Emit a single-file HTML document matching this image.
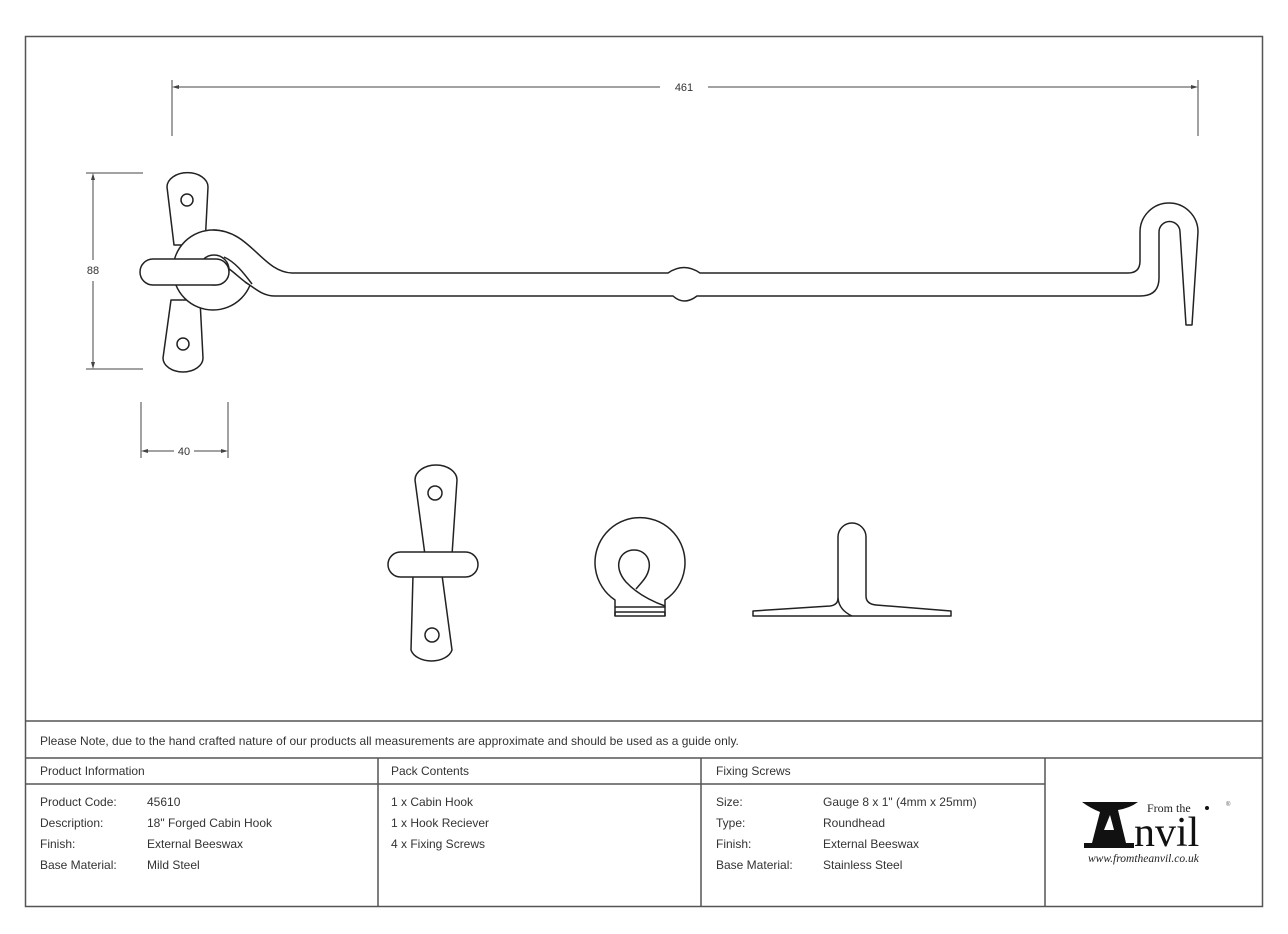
<!DOCTYPE html>
<html><head><meta charset="utf-8"><style>
html,body{margin:0;padding:0;background:#fff}
svg{display:block}
.t{font-family:"Liberation Sans",sans-serif;fill:#333}
</style></head><body>
<svg width="1288" height="934" viewBox="0 0 1288 934" xmlns="http://www.w3.org/2000/svg">
<rect x="0" y="0" width="1288" height="934" fill="#fff"/>
<rect x="25.5" y="36.5" width="1237" height="870" fill="none" stroke="#555" stroke-width="1.5"/>
<g stroke="#555" stroke-width="1.5">
<line x1="25" y1="721" x2="1263" y2="721"/>
<line x1="25" y1="758" x2="1263" y2="758"/>
<line x1="25" y1="784" x2="1045" y2="784"/>
<line x1="378" y1="758" x2="378" y2="907"/>
<line x1="701" y1="758" x2="701" y2="907"/>
<line x1="1045" y1="758" x2="1045" y2="907"/>
</g>
<g class="t" font-size="12">
<text x="40" y="745">Please Note, due to the hand crafted nature of our products all measurements are approximate and should be used as a guide only.</text>
<text x="40" y="775">Product Information</text>
<text x="391" y="775">Pack Contents</text>
<text x="716" y="775">Fixing Screws</text>
<text x="40" y="806">Product Code:</text><text x="147" y="806">45610</text>
<text x="40" y="827">Description:</text><text x="147" y="827">18" Forged Cabin Hook</text>
<text x="40" y="848">Finish:</text><text x="147" y="848">External Beeswax</text>
<text x="40" y="869">Base Material:</text><text x="147" y="869">Mild Steel</text>
<text x="391" y="806">1 x Cabin Hook</text>
<text x="391" y="827">1 x Hook Reciever</text>
<text x="391" y="848">4 x Fixing Screws</text>
<text x="716" y="806">Size:</text><text x="823" y="806">Gauge 8 x 1" (4mm x 25mm)</text>
<text x="716" y="827">Type:</text><text x="823" y="827">Roundhead</text>
<text x="716" y="848">Finish:</text><text x="823" y="848">External Beeswax</text>
<text x="716" y="869">Base Material:</text><text x="823" y="869">Stainless Steel</text>
</g>
<g>
<path d="M1082,802 L1138,802 Q1130,808 1118,810 L1126,843 L1134,843 L1134,848 L1084,848 L1084,843 L1092,843 L1100,812 Q1090,808 1082,802 Z M1104,830 L1114,830 L1110,815 Z" fill="#111"/>
<text x="1134" y="846" style="font-family:'Liberation Serif',serif;font-size:42px;fill:#111">nvil</text>
<text x="1147" y="812" style="font-family:'Liberation Serif',serif;font-size:12px;fill:#222">From the</text>
<circle cx="1207" cy="808" r="2" fill="#111"/>
<text x="1226" y="806" style="font-family:'Liberation Sans',sans-serif;font-size:6px;fill:#555">®</text>
<text x="1088" y="862" style="font-family:'Liberation Serif',serif;font-style:italic;font-size:11.5px;fill:#222">www.fromtheanvil.co.uk</text>
</g>
<g stroke="#444" stroke-width="1" fill="none">
<line x1="172" y1="80" x2="172" y2="136"/>
<line x1="1198" y1="80" x2="1198" y2="136"/>
<line x1="174" y1="87" x2="660" y2="87"/>
<line x1="708" y1="87" x2="1196" y2="87"/>
<line x1="86" y1="173" x2="143" y2="173"/>
<line x1="86" y1="369" x2="143" y2="369"/>
<line x1="93" y1="175" x2="93" y2="260"/>
<line x1="93" y1="281" x2="93" y2="367"/>
<line x1="141" y1="402" x2="141" y2="458"/>
<line x1="228" y1="402" x2="228" y2="458"/>
<line x1="143" y1="451" x2="174" y2="451"/>
<line x1="194" y1="451" x2="226" y2="451"/>
</g>
<g fill="#444">
<path d="M172,87 L179,85 L179,89 Z"/><path d="M1198,87 L1191,85 L1191,89 Z"/>
<path d="M93,173 L91,180 L95,180 Z"/><path d="M93,369 L91,362 L95,362 Z"/>
<path d="M141,451 L148,449 L148,453 Z"/><path d="M228,451 L221,449 L221,453 Z"/>
</g>
<g class="t" font-size="11"><text x="684" y="91" text-anchor="middle">461</text>
<text x="93" y="274" text-anchor="middle">88</text>
<text x="184" y="455" text-anchor="middle">40</text></g>
<g stroke="#222" stroke-width="1.5" fill="#fff" stroke-linejoin="round">
<path d="M167,187 A20,14 0 0 1 208,187 L205,245 L174,245 Z"/>
<path d="M171,300 L200,300 L203,358 A20,14 0 0 1 163,358 Z"/>
<circle cx="187" cy="200" r="6"/>
<circle cx="183" cy="344" r="6"/>
<circle cx="213" cy="270" r="40"/>
<circle cx="214" cy="270" r="15"/>
<path d="M213,230 C250,230 262,272 292,273 L668,273 Q684,262 700,273 L1128,273 Q1140,273 1140,261 L1140,232 A29,29 0 0 1 1198,232 L1192,325 L1186,325 L1180,232 A10.5,10.5 0 0 0 1159,232 L1159,278 Q1159,296 1140,296 L697,296 Q684,306 673,296 L275,296 C262,296 255,288 245,282" fill="#fff"/>
<path d="M224,257 C235,262 243,272 252,284" fill="none"/>
<path d="M228,268 C236,274 242,280 248,284" fill="none"/>
<rect x="140" y="259" width="89" height="26" rx="13"/>
</g>
<g stroke="#222" stroke-width="1.5" fill="#fff" stroke-linejoin="round">
<path d="M415,480 A21,15 0 0 1 457,480 L452,555 L425,555 Z"/>
<path d="M413,575 L442,575 L452,650 A21,14 0 0 1 411,650 Z"/>
<circle cx="435" cy="493" r="7"/>
<circle cx="432" cy="635" r="7"/>
<rect x="388" y="552" width="90" height="25" rx="12.5"/>
<path d="M615,607 L615,600 A45,45 0 1 1 665,600 L665,607 Z"/>
<rect x="615" y="612" width="50" height="4"/>
<line x1="615" y1="607" x2="615" y2="616"/><line x1="665" y1="607" x2="665" y2="616"/>
<path d="M665,606 Q640,597 626,582 C612,566 620,550 634,550 C648,550 656,566 642,582 L636,589" fill="none"/>
<path d="M838,537 A14,14 0 0 1 866,537 L866,596 Q866,604 876,605 L951,611 L951,616 L753,616 L753,611 L830,606 Q838,605 838,598 Z"/>
<path d="M838,598 Q839,610 852,616" fill="none"/>
</g>
</svg>
</body></html>
